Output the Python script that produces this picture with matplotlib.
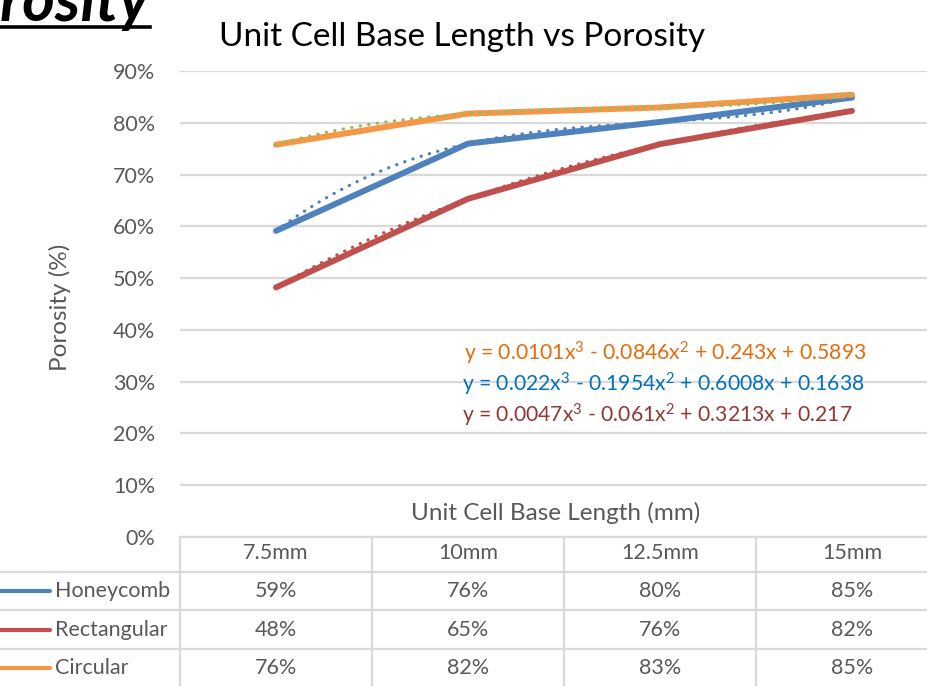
import numpy as np
import matplotlib
matplotlib.use('agg')
import matplotlib.pyplot as plt
from matplotlib.transforms import blended_transform_factory
from matplotlib.lines import Line2D

plt.rcParams['font.family'] = ['Lato', 'DejaVu Sans']
plt.rcParams['mathtext.fontset'] = 'custom'
plt.rcParams['mathtext.rm'] = 'Lato'
plt.rcParams['mathtext.it'] = 'Lato'

# data
categories = ['7.5mm', '10mm', '12.5mm', '15mm']
honeycomb = [0.5912, 0.7598, 0.8016, 0.8486]
rectangular = [0.4820, 0.6532, 0.7588, 0.8230]
circular = [0.7578, 0.8177, 0.8296, 0.8541]
series_names = ['Honeycomb', 'Rectangular', 'Circular']
equations = [r'y = 0.022x$^\mathrm{3}$ - 0.1954x$^\mathrm{2}$ + 0.6008x + 0.1638',
             r'y = 0.0047x$^\mathrm{3}$ - 0.061x$^\mathrm{2}$ + 0.3213x + 0.217',
             r'y = 0.0101x$^\mathrm{3}$ - 0.0846x$^\mathrm{2}$ + 0.243x + 0.5893']

# styles
line_colors = ['#4F81BD', '#C0504D', '#F79646']
trend_colors = ['#4F81BD', '#C0504D', '#9BBB59']
eq_colors = ['#0070C0', '#953735', '#E46C0A']
eq_pos = [(663, 384), (657, 415), (665, 353)]  # pixel centres from top-left
grid_c = '#D9D9D9'
text_c = '#595959'
fs = 15.5

W, H = 927, 686
fig = plt.figure(figsize=(W/100, H/100), dpi=100)
ax = fig.add_axes([180/W, (H-537)/H, 768/W, 466/H])

x = np.arange(len(categories))
xs = np.linspace(0, len(categories)-1, 200)
all_series = [honeycomb, rectangular, circular]
for vals, lc in zip(all_series, line_colors):
    ax.plot(x, vals, color=lc, lw=4.3, solid_capstyle='round', solid_joinstyle='round', zorder=3)
for vals, tc in zip(all_series, trend_colors):
    # Excel style 3rd-order polynomial trendline (x = 1..n)
    coef = np.polyfit(x + 1, vals, 3)
    ax.plot(xs, np.polyval(coef, xs + 1), color=tc, lw=2.3, dashes=(0.1, 2.6),
            dash_capstyle='round', zorder=4)

ax.set_xlim(-0.5, len(categories)-0.5)
ax.set_ylim(0, 0.9)
ticks = np.arange(0, 0.91, 0.1)
ax.set_yticks(ticks)
ax.set_yticklabels([f'{int(round(v*100))}%' for v in ticks])
ax.tick_params(axis='y', length=0, pad=18, labelsize=fs, labelcolor=text_c)
ax.set_xticks([])
ax.grid(axis='y', color=grid_c, lw=1.6)
ax.set_axisbelow(True)
for s in ax.spines.values():
    s.set_visible(False)

fig.text(60/W, 1-307/H, 'Porosity (%)', fontsize=17.5, color=text_c, rotation=90,
         ha='center', va='center')

# title and slide heading
fig.text(462/W, 1-37/H, 'Unit Cell Base Length vs Porosity', fontsize=24,
         ha='center', va='center', color='black')
fig.text(150/W, 1-21/H, 'Porosity', fontsize=45, fontweight='bold', fontstyle='italic',
         ha='right', va='baseline', color='black')
fig.add_artist(Line2D([0, 150/W], [1-27/H, 1-27/H], color='black', lw=2.6))

# trendline equations
for eq, c, (px, py) in zip(equations, eq_colors, eq_pos):
    fig.text(px/W, 1-py/H, eq, fontsize=15.2, color=c, ha='center', va='center')

fig.text(556/W, 1-513/H, 'Unit Cell Base Length (mm)', fontsize=17.5, color=text_c,
         ha='center', va='center')

# data table
tr = blended_transform_factory(ax.transData, fig.transFigure)
row_lines = [537, 572, 610, 649]
row_centers = [553, 591, 630, 668]
fig.add_artist(Line2D([180/W, 1], [1-row_lines[0]/H]*2, color=grid_c, lw=1.6))
for yy in row_lines[1:]:
    fig.add_artist(Line2D([0, 1], [1-yy/H]*2, color=grid_c, lw=1.6))
for i in range(len(categories)):
    fig.add_artist(Line2D([i-0.5, i-0.5], [1-row_lines[0]/H, 0], color=grid_c, lw=1.6,
                          transform=tr))
    fig.text(i, 1-row_centers[0]/H, categories[i], transform=tr, ha='center', va='center',
             fontsize=fs, color=text_c)
    for r, vals in enumerate(all_series):
        fig.text(i, 1-row_centers[r+1]/H, f'{int(round(vals[i]*100))}%', transform=tr,
                 ha='center', va='center', fontsize=fs, color=text_c)
for r, (name, c) in enumerate(zip(series_names, line_colors)):
    yy = 1-row_centers[r+1]/H
    fig.add_artist(Line2D([0, 50/W], [yy, yy], color=c, lw=3, solid_capstyle='round'))
    fig.text(55/W, yy, name, ha='left', va='center', fontsize=fs, color=text_c)

fig.savefig('out.png', dpi=100)
